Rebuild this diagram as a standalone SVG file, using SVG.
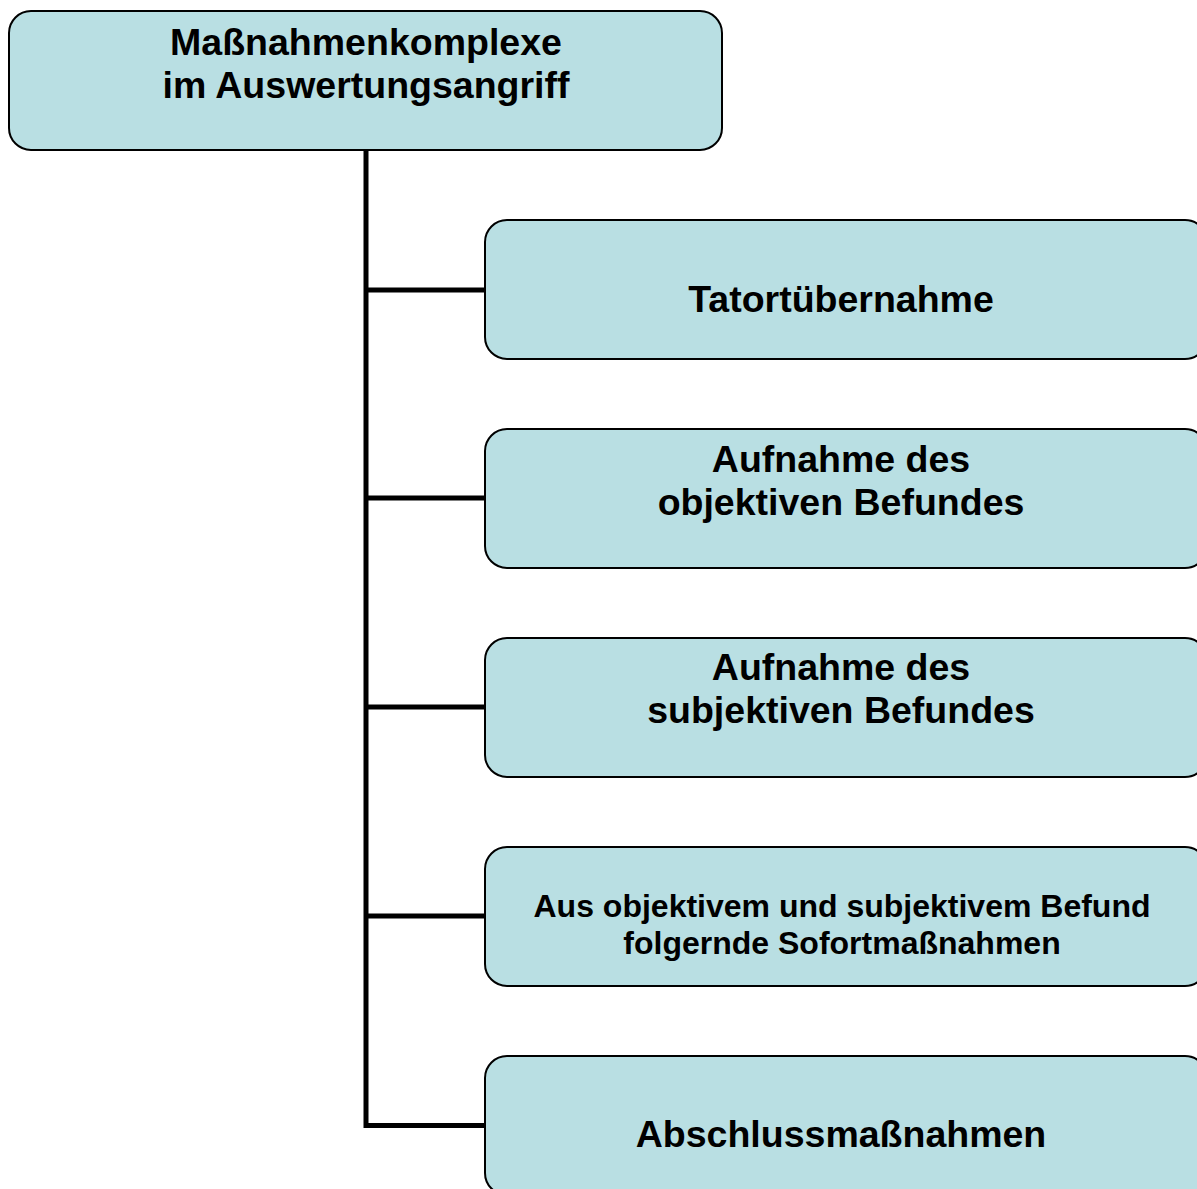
<svg xmlns="http://www.w3.org/2000/svg" width="1197" height="1189" viewBox="0 0 1197 1189">
<style>
.box{fill:#B9DFE3;stroke:#000;stroke-width:2}
.t{font-family:"Liberation Sans",Arial,sans-serif;font-weight:bold;font-size:37.5px;fill:#000;text-anchor:middle}
.s{font-size:32px}
.c{stroke:#000;stroke-width:5;fill:none}
</style>
<rect width="1197" height="1189" fill="#fff"/>
<g id="connectors">
<path class="c" d="M366 150 V1125.5 H486"/>
<path class="c" d="M366 290 H486 M366 498 H486 M366 707 H486 M366 916 H486"/>
</g>
<g id="root">
<rect class="box" x="9" y="11" width="713" height="139" rx="22"/>
<text class="t" x="366" y="55">Maßnahmenkomplexe</text>
<text class="t" x="366" y="98">im Auswertungsangriff</text>
</g>
<g id="n1">
<rect class="box" x="485" y="220" width="722" height="139" rx="22"/>
<text class="t" x="841" y="312">Tatortübernahme</text>
</g>
<g id="n2">
<rect class="box" x="485" y="429" width="722" height="139" rx="22"/>
<text class="t" x="841" y="472">Aufnahme des</text>
<text class="t" x="841" y="515">objektiven Befundes</text>
</g>
<g id="n3">
<rect class="box" x="485" y="638" width="722" height="139" rx="22"/>
<text class="t" x="841" y="680">Aufnahme des</text>
<text class="t" x="841" y="723">subjektiven Befundes</text>
</g>
<g id="n4">
<rect class="box" x="485" y="847" width="722" height="139" rx="22"/>
<text class="t s" x="842" y="917">Aus objektivem und subjektivem Befund</text>
<text class="t s" x="842" y="954">folgernde Sofortmaßnahmen</text>
</g>
<g id="n5">
<rect class="box" x="485" y="1056" width="722" height="139" rx="22"/>
<text class="t" x="841" y="1147">Abschlussmaßnahmen</text>
</g>
</svg>
